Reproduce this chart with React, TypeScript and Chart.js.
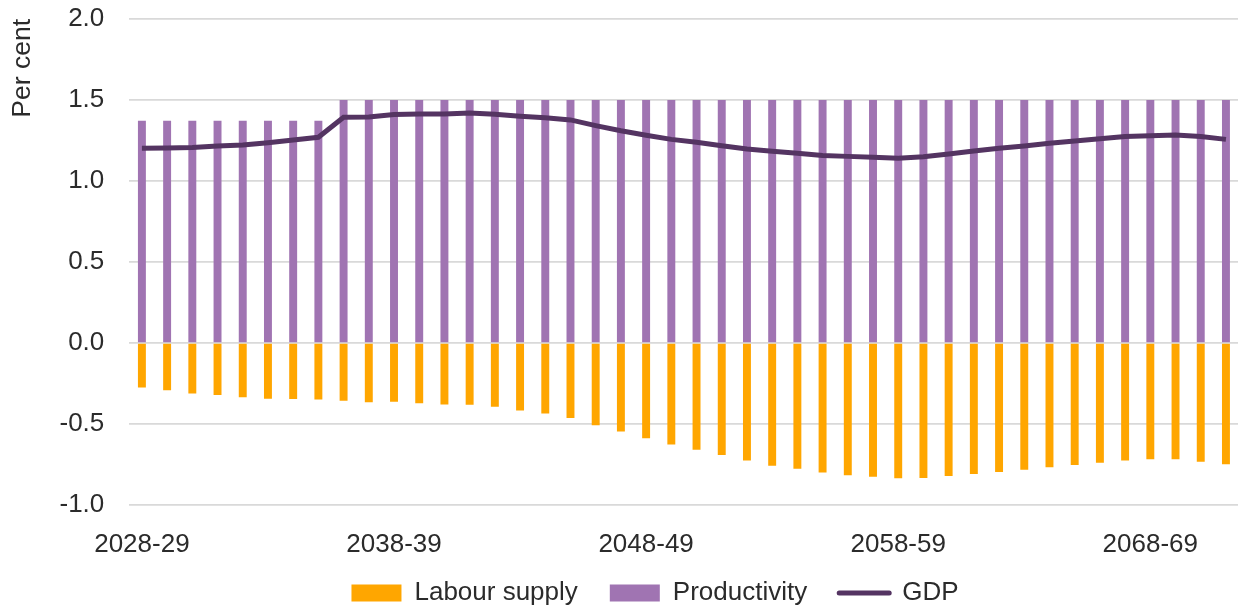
import React, { useEffect, useRef } from "react";
import { Chart, registerables } from "chart.js";

Chart.register(...registerables);

const categories: string[] = [];
for (let y = 2028; y <= 2071; y++) {
  categories.push(`${y}-${String((y + 1) % 100).padStart(2, "0")}`);
}

const labourSupply = [
  -0.274, -0.292, -0.311, -0.321, -0.335, -0.344, -0.346, -0.348, -0.356, -0.366,
  -0.362, -0.372, -0.379, -0.381, -0.393, -0.416, -0.435, -0.463, -0.508, -0.547,
  -0.588, -0.626, -0.659, -0.691, -0.726, -0.757, -0.776, -0.8, -0.817, -0.825,
  -0.835, -0.833, -0.821, -0.809, -0.796, -0.782, -0.767, -0.753, -0.739, -0.726,
  -0.718, -0.718, -0.733, -0.749,
];

const productivity = [
  1.372, 1.372, 1.372, 1.372, 1.372, 1.372, 1.372, 1.372, 1.5, 1.5,
  1.5, 1.5, 1.5, 1.5, 1.5, 1.5, 1.5, 1.5, 1.5, 1.5,
  1.5, 1.5, 1.5, 1.5, 1.5, 1.5, 1.5, 1.5, 1.5, 1.5,
  1.5, 1.5, 1.5, 1.5, 1.5, 1.5, 1.5, 1.5, 1.5, 1.5,
  1.5, 1.5, 1.5, 1.5,
];

const gdp = [
  1.202, 1.203, 1.207, 1.216, 1.222, 1.236, 1.253, 1.27, 1.393, 1.395,
  1.41, 1.413, 1.413, 1.42, 1.412, 1.4, 1.391, 1.377, 1.342, 1.31,
  1.282, 1.257, 1.239, 1.218, 1.197, 1.183, 1.171, 1.158, 1.152, 1.146,
  1.14, 1.15, 1.167, 1.185, 1.202, 1.216, 1.233, 1.247, 1.261, 1.274,
  1.28, 1.284, 1.274, 1.257,
];

const yTicks = [-1.0, -0.5, 0.0, 0.5, 1.0, 1.5, 2.0];

const ORANGE = "#FFA600";
const PURPLE = "#A074B2";
const DARK = "#543462";
const TEXT = "#2b2b2b";
const FONT = "'Liberation Sans', Arial, sans-serif";

const legendShift = {
  id: "legendShift",
  afterLayout(chart: any) {
    const lg = chart.legend;
    if (lg) {
      lg.left += 32;
      lg.right += 32;
      lg.top = 548;
      lg.bottom = 610;
      lg.height = 62;
    }
  },
};

export default function App() {
  const ref = useRef<HTMLCanvasElement | null>(null);
  useEffect(() => {
    if (!ref.current) return;
    const chart = new Chart(ref.current, {
      type: "bar",
      plugins: [legendShift],
      data: {
        labels: categories,
        datasets: [
          {
            type: "bar",
            label: "Labour supply",
            data: labourSupply,
            backgroundColor: ORANGE,
            stack: "s",
            order: 2,
            categoryPercentage: 1,
            barPercentage: 0.315,
          },
          {
            type: "bar",
            label: "Productivity",
            data: productivity,
            backgroundColor: PURPLE,
            stack: "s",
            order: 2,
            categoryPercentage: 1,
            barPercentage: 0.315,
          },
          {
            type: "line",
            label: "GDP",
            data: gdp,
            borderColor: DARK,
            backgroundColor: DARK,
            borderWidth: 5,
            pointRadius: 0,
            tension: 0,
            stack: "g",
            order: 0,
          } as any,
        ],
      },
      options: {
        responsive: false,
        animation: false,
        layout: { padding: { top: 19, right: 4, left: 0, bottom: 0 } },
        plugins: {
          tooltip: { enabled: false },
          legend: {
            position: "bottom",
            maxHeight: 49,
            labels: {
              usePointStyle: true,
              pointStyleWidth: 50,
              boxHeight: 17,
              padding: 32,
              color: TEXT,
              font: { family: FONT, size: 26 },
              generateLabels: (c: any) =>
                c.data.datasets.map((ds: any, i: number) => ({
                  text: ds.label,
                  datasetIndex: i,
                  hidden: false,
                  fontColor: TEXT,
                  fillStyle: ds.type === "line" ? DARK : ds.backgroundColor,
                  strokeStyle: ds.type === "line" ? DARK : ds.backgroundColor,
                  lineWidth: ds.type === "line" ? 5 : 0,
                  lineCap: "round",
                  pointStyle: ds.type === "line" ? "line" : "rect",
                })),
            },
          },
        },
        scales: {
          x: {
            stacked: true,
            offset: true,
            afterFit: (s: any) => {
              s.height = 56;
            },
            grid: { display: false, drawTicks: false },
            border: { display: false },
            ticks: {
              autoSkip: false,
              maxRotation: 0,
              minRotation: 0,
              padding: 24,
              color: TEXT,
              font: { family: FONT, size: 26 },
              callback: (_v: any, i: number) => (i % 10 === 0 ? categories[i] : ""),
            },
          },
          y: {
            stacked: true,
            min: -1,
            max: 2,
            afterFit: (s: any) => {
              s.width = 129.3;
              s.paddingTop = 15;
              s.paddingBottom = 15;
            },
            afterBuildTicks: (s: any) => {
              s.ticks = yTicks.map((v) => ({ value: v }));
            },
            grid: { color: "#d9d9d9", lineWidth: 1.7, drawTicks: false },
            border: { display: false },
            ticks: {
              padding: 25,
              color: TEXT,
              font: { family: FONT, size: 26 },
              callback: (v: any) => Number(v).toFixed(1),
            },
            title: {
              display: true,
              text: "Per cent",
              align: "end",
              color: TEXT,
              font: { family: FONT, size: 26.5 },
              padding: { top: 7, bottom: 0 },
            },
          },
        },
      },
    });
    return () => chart.destroy();
  }, []);
  return (
    <div style={{ position: "fixed", left: 0, top: 0, width: 1250, height: 610 }}>
      <canvas ref={ref} width={1250} height={610} />
    </div>
  );
}
